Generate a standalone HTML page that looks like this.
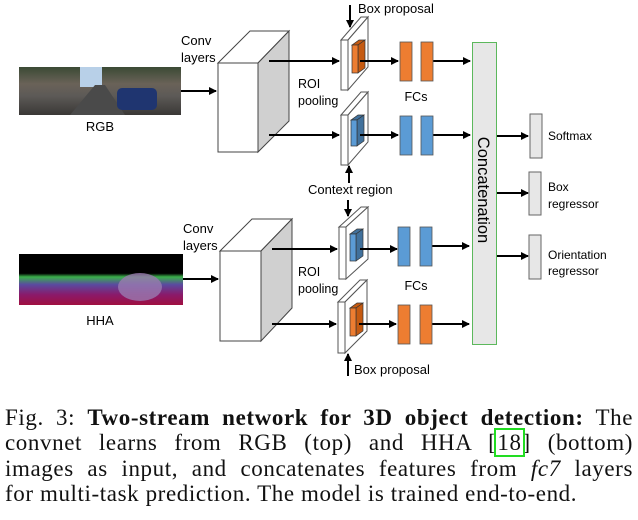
<!DOCTYPE html>
<html><head><meta charset="utf-8"><style>
html,body{margin:0;padding:0;background:#fff;}
body{width:638px;height:520px;overflow:hidden;position:relative;}
svg{position:absolute;left:0;top:0;}
.cap{position:absolute;left:5px;top:405px;width:628px;font-family:"Liberation Serif",serif;font-size:23px;letter-spacing:0.6px;line-height:25.4px;text-align:justify;color:#111;white-space:nowrap;}
.cap p{margin:0;text-align-last:justify;white-space:normal;}
.cap p.last{text-align-last:left;}
.box{outline:2px solid #22dd22;padding:0 1px;}
</style></head><body>
<svg width="638" height="400" viewBox="0 0 638 400" font-family="Liberation Sans, sans-serif" font-size="12.5">
<defs>
<marker id="a" markerWidth="8" markerHeight="8" refX="7" refY="4" orient="auto" markerUnits="userSpaceOnUse"><path d="M0,0 L8,4 L0,8 z" fill="#000"/></marker>
<linearGradient id="rgb" x1="0" y1="0" x2="0" y2="1"><stop offset="0" stop-color="#3b4a35"/><stop offset="0.35" stop-color="#6a6258"/><stop offset="0.6" stop-color="#5d5a57"/><stop offset="1" stop-color="#3a3836"/></linearGradient>
<linearGradient id="hha" x1="0" y1="0" x2="0" y2="1"><stop offset="0" stop-color="#000"/><stop offset="0.38" stop-color="#000"/><stop offset="0.45" stop-color="#3ab04a"/><stop offset="0.6" stop-color="#5a4aa0"/><stop offset="0.8" stop-color="#8a1a6a"/><stop offset="1" stop-color="#a01040"/></linearGradient>
</defs>
<rect x="19" y="67" width="162" height="48" fill="url(#rgb)"/>
<rect x="80" y="67" width="22" height="20" fill="#b8d0e8"/>
<polygon points="70,115 95,85 105,85 125,115" fill="#4a4a4a"/>
<rect x="117" y="88" width="40" height="22" rx="5" fill="#1f3570"/>
<rect x="19" y="254" width="164" height="51" fill="url(#hha)"/>
<ellipse cx="140" cy="287" rx="22" ry="14" fill="#9a7ab0" opacity="0.8"/>
<text x="100" y="131" text-anchor="middle" font-size="13">RGB</text>
<text x="100" y="325" text-anchor="middle" font-size="13">HHA</text>
<line x1="181" y1="91" x2="216" y2="91" stroke="#000" stroke-width="2" marker-end="url(#a)"/>
<line x1="183" y1="279" x2="218" y2="279" stroke="#000" stroke-width="2" marker-end="url(#a)"/>
<g stroke="#444" stroke-width="1">
<polygon points="218,63 250,31 289,31 258,63" fill="#fff"/>
<polygon points="258,63 289,31 289,121 258,152" fill="#d0d0d0"/>
<rect x="218" y="63" width="40" height="89" fill="#fff"/>
<polygon points="220,251 252,219 292,219 261,251" fill="#fff"/>
<polygon points="261,251 292,219 292,308 261,341" fill="#d0d0d0"/>
<rect x="220" y="251" width="41" height="90" fill="#fff"/>
</g>
<text x="181" y="45" font-size="13">Conv</text><text x="181" y="62" font-size="13">layers</text>
<text x="183" y="233" font-size="13">Conv</text><text x="183" y="250" font-size="13">layers</text>
<text x="298" y="88" font-size="12.5">ROI</text><text x="298" y="105" font-size="12.5">pooling</text>
<text x="298" y="276" font-size="12.5">ROI</text><text x="298" y="293" font-size="12.5">pooling</text>
<g stroke="#000" stroke-width="2" marker-end="url(#a)">
<line x1="269" y1="61" x2="339" y2="61"/>
<line x1="269" y1="135" x2="339" y2="135"/>
<line x1="272" y1="249" x2="337" y2="249"/>
<line x1="272" y1="324" x2="336" y2="324"/>
</g>
<g stroke="#555" stroke-width="1" fill="#fff">
<polygon points="341,40 361,17 368,17 348,40"/><polygon points="348,40 368,17 368,67 348,90"/><rect x="341" y="40" width="7" height="50"/>
<polygon points="341,115 361,92 368,92 348,115"/><polygon points="348,115 368,92 368,142 348,165"/><rect x="341" y="115" width="7" height="50"/>
<polygon points="339,227 361,207 368,207 346,227"/><polygon points="346,227 368,207 368,259 346,279"/><rect x="339" y="227" width="7" height="52"/>
<polygon points="338,302 360,280 367,280 345,302"/><polygon points="345,302 367,280 367,331 345,353"/><rect x="338" y="302" width="7" height="51"/>
</g>
<g stroke="#333" stroke-width="0.7">
<polygon points="352,45 359,40 365,40 358,45" fill="#c55a11"/><polygon points="358,45 365,40 365,68 358,73" fill="#c55a11"/><rect x="352" y="45" width="6" height="28" fill="#ed7d31"/>
<polygon points="351,120 358,115 364,115 357,120" fill="#41719c"/><polygon points="357,120 364,115 364,141 357,146" fill="#41719c"/><rect x="351" y="120" width="6" height="26" fill="#5b9bd5"/>
<polygon points="350,234 357,229 363,229 356,234" fill="#41719c"/><polygon points="356,234 363,229 363,256 356,261" fill="#41719c"/><rect x="350" y="234" width="6" height="27" fill="#5b9bd5"/>
<polygon points="350,308 357,303 363,303 356,308" fill="#c55a11"/><polygon points="356,308 363,303 363,331 356,336" fill="#c55a11"/><rect x="350" y="308" width="6" height="28" fill="#ed7d31"/>
</g>
<g stroke="#000" stroke-width="2" marker-end="url(#a)">
<line x1="360" y1="61" x2="398" y2="61"/>
<line x1="360" y1="135" x2="398" y2="135"/>
<line x1="360" y1="249" x2="397" y2="249"/>
<line x1="359" y1="324" x2="396" y2="324"/>
<line x1="433" y1="61" x2="470" y2="61"/>
<line x1="433" y1="135" x2="470" y2="135"/>
<line x1="432" y1="246" x2="469" y2="246"/>
<line x1="432" y1="324" x2="469" y2="324"/>
<line x1="497" y1="136" x2="528" y2="136"/>
<line x1="497" y1="193" x2="528" y2="193"/>
<line x1="497" y1="256" x2="528" y2="256"/>
<line x1="350" y1="5" x2="350" y2="27"/>
<line x1="349" y1="183" x2="349" y2="166"/>
<line x1="348" y1="200" x2="348" y2="216"/>
<line x1="348" y1="376" x2="348" y2="354"/>
</g>
<g stroke="#555" stroke-width="0.8">
<rect x="400" y="42" width="12" height="39" fill="#ed7d31"/><rect x="421" y="42" width="12" height="39" fill="#ed7d31"/>
<rect x="400" y="116" width="12" height="39" fill="#5b9bd5"/><rect x="421" y="116" width="12" height="39" fill="#5b9bd5"/>
<rect x="398" y="227" width="12" height="39" fill="#5b9bd5"/><rect x="420" y="227" width="12" height="39" fill="#5b9bd5"/>
<rect x="398" y="305" width="12" height="39" fill="#ed7d31"/><rect x="420" y="305" width="12" height="39" fill="#ed7d31"/>
</g>
<text x="416" y="101" text-anchor="middle">FCs</text>
<text x="416" y="290" text-anchor="middle">FCs</text>
<text x="358" y="13" font-size="13">Box proposal</text>
<text x="308" y="194" font-size="13">Context region</text>
<text x="354" y="374" font-size="13">Box proposal</text>
<rect x="472.5" y="42.5" width="24" height="302" fill="#e7e7e7" stroke="#5cb85c" stroke-width="1"/>
<text transform="translate(478,190) rotate(90)" text-anchor="middle" font-size="16.5">Concatenation</text>
<g fill="#e7e7e7" stroke="#666" stroke-width="1">
<rect x="530" y="114" width="12" height="44"/>
<rect x="529" y="172" width="12" height="43"/>
<rect x="529" y="235" width="12" height="44"/>
</g>
<text x="548" y="140" font-size="12">Softmax</text>
<text x="548" y="191" font-size="12">Box</text><text x="548" y="208" font-size="12">regressor</text>
<text x="548" y="259" font-size="12">Orientation</text><text x="548" y="275" font-size="12">regressor</text>
</svg>
<div class="cap">
<p>Fig. 3: <b>Two-stream network for 3D object detection:</b> The</p>
<p>convnet learns from RGB (top) and HHA [<span class="box">18</span>] (bottom)</p>
<p>images as input, and concatenates features from <i>fc7</i> layers</p>
<p class="last">for multi-task prediction. The model is trained end-to-end.</p>
</div>
</body></html>
